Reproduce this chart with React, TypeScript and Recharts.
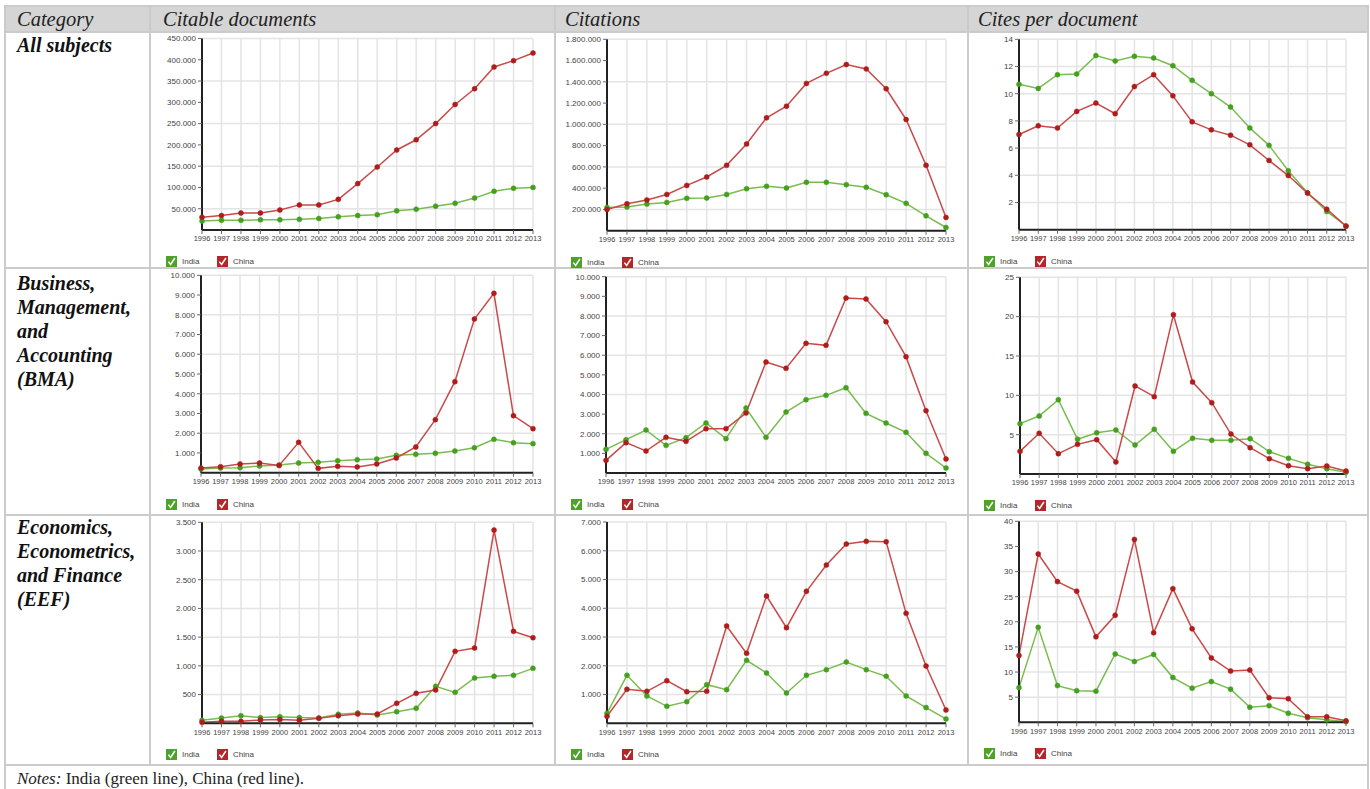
import React from "react";
import { LineChart, Line, XAxis, YAxis, CartesianGrid } from "recharts";

const years = ["1996", "1997", "1998", "1999", "2000", "2001", "2002", "2003", "2004",
  "2005", "2006", "2007", "2008", "2009", "2010", "2011", "2012", "2013"];

// All subjects
const allDocsIndia = [21000, 22700, 22700, 24000, 24000, 25000, 27000, 31000, 34000, 36000, 45000, 49000, 56000, 63000, 75000, 91000, 98000, 100000];
const allDocsChina = [30000, 34000, 40000, 40000, 47000, 59000, 59000, 72000, 109000, 148000, 188000, 212000, 250000, 295000, 332000, 383000, 398000, 416000];
const allCitIndia = [219000, 222000, 250000, 266000, 304000, 307000, 341000, 395000, 417000, 401000, 455000, 455000, 433000, 408000, 338000, 257000, 140000, 30000];
const allCitChina = [200000, 253000, 288000, 341000, 426000, 505000, 615000, 816000, 1062000, 1171000, 1385000, 1480000, 1562000, 1521000, 1335000, 1046000, 615000, 125000];
const allCpdIndia = [10.69, 10.39, 11.4, 11.45, 12.8, 12.41, 12.75, 12.63, 12.06, 10.98, 10.0, 9.02, 7.48, 6.2, 4.33, 2.71, 1.34, 0.28];
const allCpdChina = [7.0, 7.64, 7.48, 8.7, 9.31, 8.53, 10.52, 11.4, 9.84, 7.93, 7.34, 6.95, 6.24, 5.09, 3.98, 2.69, 1.51, 0.26];

// Business, Management, and Accounting
const bmaDocsIndia = [186, 236, 253, 338, 389, 490, 524, 608, 659, 693, 878, 929, 980, 1098, 1267, 1689, 1520, 1470];
const bmaDocsChina = [236, 304, 439, 490, 370, 1537, 220, 321, 287, 439, 743, 1300, 2686, 4611, 7787, 9088, 2889, 2230];
const bmaCitIndia = [1205, 1698, 2190, 1409, 1800, 2547, 1749, 3311, 1817, 3107, 3735, 3956, 4346, 3039, 2547, 2071, 1002, 255];
const bmaCitChina = [645, 1545, 1121, 1817, 1613, 2258, 2258, 3056, 5654, 5331, 6604, 6503, 8913, 8862, 7708, 5925, 3175, 713];
const bmaCpdIndia = [6.4, 7.37, 9.45, 4.41, 5.25, 5.59, 3.69, 5.68, 2.88, 4.53, 4.28, 4.28, 4.49, 2.84, 1.99, 1.23, 0.68, 0.21];
const bmaCpdChina = [2.88, 5.17, 2.58, 3.77, 4.36, 1.53, 11.19, 9.83, 20.25, 11.69, 9.07, 5.08, 3.35, 1.95, 1.06, 0.68, 1.02, 0.38];

// Economics, Econometrics, and Finance
const eefDocsIndia = [52, 93, 133, 99, 116, 99, 93, 157, 180, 145, 203, 261, 644, 539, 789, 818, 835, 957];
const eefDocsChina = [17, 35, 35, 58, 64, 52, 87, 133, 162, 162, 348, 522, 580, 1253, 1311, 3364, 1601, 1491];
const eefCitIndia = [348, 1669, 950, 591, 753, 1344, 1170, 2190, 1750, 1054, 1669, 1866, 2132, 1866, 1634, 950, 545, 151];
const eefCitChina = [243, 1182, 1112, 1483, 1101, 1112, 3384, 2433, 4426, 3326, 4589, 5504, 6234, 6327, 6315, 3824, 1993, 463];
const eefCpdIndia = [6.9, 18.9, 7.3, 6.3, 6.2, 13.6, 12.1, 13.5, 8.9, 6.8, 8.1, 6.6, 3.0, 3.3, 1.8, 0.9, 0.5, 0.1];
const eefCpdChina = [13.3, 33.5, 28.0, 26.1, 17.0, 21.3, 36.4, 17.8, 26.6, 18.6, 12.8, 10.2, 10.4, 4.9, 4.7, 1.1, 1.1, 0.3];

// tick labels
const ticks450k = [50000, 100000, 150000, 200000, 250000, 300000, 350000, 400000, 450000];
const ticks1800k = [200000, 400000, 600000, 800000, 1000000, 1200000, 1400000, 1600000, 1800000];
const ticks14 = [2, 4, 6, 8, 10, 12, 14];
const ticks10k = [1000, 2000, 3000, 4000, 5000, 6000, 7000, 8000, 9000, 10000];
const ticks25 = [5, 10, 15, 20, 25];
const ticks3500 = [500, 1000, 1500, 2000, 2500, 3000, 3500];
const ticks7000 = [1000, 2000, 3000, 4000, 5000, 6000, 7000];
const ticks40 = [5, 10, 15, 20, 25, 30, 35, 40];

const INDIA_LINE = "#79bc50";
const INDIA_DOT = "#45a01f";
const CHINA_LINE = "#c84a4a";
const CHINA_DOT = "#ae1c1c";
const BORDER = "#cbcbcb";
const SANS = "'Liberation Sans', Arial, sans-serif";

const fmt = (v: number) => String(v).replace(/\B(?=(\d{3})+(?!\d))/g, ".");

function CheckBox({ color }: { color: string }) {
  return (
    <svg width={11} height={11} style={{ display: "block" }}>
      <rect width={11} height={11} fill={color} />
      <polyline points="2.4,5.6 4.6,8.4 8.9,2.0" fill="none" stroke="#fff" strokeWidth={1.5} />
    </svg>
  );
}

interface ChartProps {
  x: number; y: number; w: number; h: number;
  india: number[]; china: number[];
  max: number; ticks: number[];
  left: number; top: number; axisY: number;
}

function MiniChart({ x, y, w, h, india, china, max, ticks, left, top, axisY }: ChartProps) {
  const data = years.map((yr, i) => ({ year: yr, India: india[i], China: china[i] }));
  const legendTop = axisY + 26;
  return (
    <div style={{ position: "absolute", left: x, top: y, width: w, height: h }}>
      <LineChart width={w} height={axisY + 18} data={data} margin={{ top, right: 22, left: 0, bottom: 0 }}>
        <CartesianGrid stroke="#e4e4e4" strokeWidth={1.5} />
        <XAxis dataKey="year" interval={0} height={18} tickSize={4}
          tick={{ fontSize: 7.5, fill: "#444", fontFamily: SANS }}
          axisLine={{ stroke: "#222", strokeWidth: 2 }} tickLine={{ stroke: "#666" }} />
        <YAxis width={left} type="number" domain={[0, max]} ticks={ticks} tickSize={4}
          tickFormatter={fmt} tick={{ fontSize: 8, fill: "#444", fontFamily: SANS }}
          axisLine={{ stroke: "#222", strokeWidth: 2 }} tickLine={{ stroke: "#666" }} />
        <Line dataKey="India" stroke={INDIA_LINE} strokeWidth={1.5} isAnimationActive={false}
          dot={{ r: 2.5, fill: INDIA_DOT, stroke: INDIA_DOT, strokeWidth: 0.5 }} activeDot={false} />
        <Line dataKey="China" stroke={CHINA_LINE} strokeWidth={1.5} isAnimationActive={false}
          dot={{ r: 2.5, fill: CHINA_DOT, stroke: CHINA_DOT, strokeWidth: 0.5 }} activeDot={false} />
      </LineChart>
      <div style={{ position: "absolute", left: 16, top: legendTop }}><CheckBox color="#4da32a" /></div>
      <div style={{ position: "absolute", left: 32, top: legendTop, fontSize: 8, lineHeight: "11px", color: "#444", fontFamily: SANS }}>India</div>
      <div style={{ position: "absolute", left: 67, top: legendTop }}><CheckBox color="#b3262a" /></div>
      <div style={{ position: "absolute", left: 83, top: legendTop, fontSize: 8, lineHeight: "11px", color: "#444", fontFamily: SANS }}>China</div>
    </div>
  );
}

const colX = [5, 150, 555, 968, 1368];
const rowY = [6, 32, 268, 515, 765];

export default function App() {
  const cellStyle = (l: number, t: number): React.CSSProperties => ({
    position: "absolute", left: l, top: t, fontWeight: "bold", fontStyle: "italic",
    fontSize: 20, lineHeight: "24px", color: "#111",
  });
  return (
    <div style={{ position: "absolute", left: 0, top: 0, width: 1370, height: 789, background: "#fff",
      fontFamily: "'Liberation Serif', 'Times New Roman', serif", overflow: "hidden" }}>
      {/* header band */}
      <div style={{ position: "absolute", left: 5, top: 6, width: 1363, height: 26, background: "#d5d5d5" }} />
      {/* grid lines of the table */}
      {colX.map((cx, i) => (
        <div key={"c" + i} style={{ position: "absolute", left: cx - 1, top: 5, width: 2,
          height: i === 0 || i === 4 ? 800 : 761, background: BORDER }} />
      ))}
      {rowY.map((ry, i) => (
        <div key={"r" + i} style={{ position: "absolute", left: 5, top: ry - 1, width: 1363, height: 2, background: BORDER }} />
      ))}
      {/* header texts */}
      {[["Category", 17], ["Citable documents", 163], ["Citations", 565], ["Cites per document", 978]].map(([t, lx]) => (
        <div key={t as string} style={{ position: "absolute", left: lx as number, top: 6, height: 26, lineHeight: "26px",
          fontStyle: "italic", fontSize: 20.5, color: "#222" }}>{t}</div>
      ))}
      {/* category texts */}
      <div style={cellStyle(17, 33)}>All subjects</div>
      <div style={cellStyle(17, 271)}>Business,<br />Management,<br />and<br />Accounting<br />(BMA)</div>
      <div style={cellStyle(17, 515)}>Economics,<br />Econometrics,<br />and Finance<br />(EEF)</div>

      {/* row 1 */}
      <MiniChart x={150} y={32} w={405} h={236} india={allDocsIndia} china={allDocsChina} max={450000} ticks={ticks450k} left={52} top={6.5} axisY={198} />
      <MiniChart x={555} y={32} w={413} h={236} india={allCitIndia} china={allCitChina} max={1800000} ticks={ticks1800k} left={52} top={7.3} axisY={198.7} />
      <MiniChart x={968} y={32} w={400} h={236} india={allCpdIndia} china={allCpdChina} max={14} ticks={ticks14} left={51} top={7.3} axisY={197.7} />

      {/* row 2 */}
      <MiniChart x={150} y={268} w={405} h={247} india={bmaDocsIndia} china={bmaDocsChina} max={10000} ticks={ticks10k} left={51} top={7.3} axisY={204.7} />
      <MiniChart x={555} y={268} w={413} h={247} india={bmaCitIndia} china={bmaCitChina} max={10000} ticks={ticks10k} left={51} top={8.7} axisY={205} />
      <MiniChart x={968} y={268} w={400} h={247} india={bmaCpdIndia} china={bmaCpdChina} max={25} ticks={ticks25} left={52} top={9.3} axisY={206} />

      {/* row 3 */}
      <MiniChart x={150} y={515} w={405} h={250} india={eefDocsIndia} china={eefDocsChina} max={3500} ticks={ticks3500} left={52} top={7.3} axisY={208.3} />
      <MiniChart x={555} y={515} w={413} h={250} india={eefCitIndia} china={eefCitChina} max={7000} ticks={ticks7000} left={52} top={7} axisY={208.3} />
      <MiniChart x={968} y={515} w={400} h={250} india={eefCpdIndia} china={eefCpdChina} max={40} ticks={ticks40} left={51} top={6.3} axisY={207.3} />

      {/* notes */}
      <div style={{ position: "absolute", left: 17, top: 767, fontSize: 17, lineHeight: "24px", color: "#222" }}>
        <i>Notes:</i> India (green line), China (red line).
      </div>
    </div>
  );
}
